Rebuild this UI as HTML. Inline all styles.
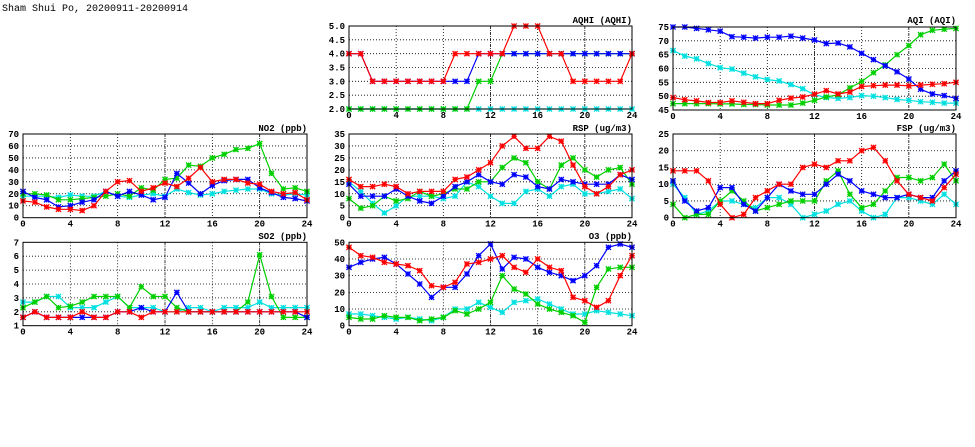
<!DOCTYPE html>
<html><head><meta charset="utf-8"><style>
html,body{margin:0;padding:0;background:#fff;width:975px;height:447px;overflow:hidden}
svg{display:block}
text{font-family:"Liberation Mono",monospace;font-size:9px;font-weight:bold;fill:#000}
.t{font-size:10px;font-weight:normal}
</style></head><body>
<svg id="s" width="975" height="447" xmlns="http://www.w3.org/2000/svg">
<text class="t" x="2" y="11">Sham Shui Po, 20200911-20200914</text>
<text x="632" y="23" text-anchor="end">AQHI (AQHI)</text>
<text x="956" y="23" text-anchor="end">AQI (AQI)</text>
<text x="307" y="131" text-anchor="end">NO2 (ppb)</text>
<text x="632" y="131" text-anchor="end">RSP (ug/m3)</text>
<text x="956" y="131" text-anchor="end">FSP (ug/m3)</text>
<text x="307" y="239" text-anchor="end">SO2 (ppb)</text>
<text x="632" y="239" text-anchor="end">O3 (ppb)</text>
</svg>
<script>
var NS="http://www.w3.org/2000/svg",S=document.getElementById("s");
function el(n,a,p){var e=document.createElementNS(NS,n);for(var k in a)e.setAttribute(k,a[k]);(p||S).appendChild(e);return e;}
var C={c:"#00e0e0",g:"#00d000",b:"#0000ff",r:"#ff0000"};
var P=[
{x0:349,x1:632,y0:26,y1:109,min:2,max:5,step:0.5,dec:1,d:{
c:[2,2,2,2,2,2,2,2,2,2,2,2,2,2,2,2,2,2,2,2,2,2,2,2,2],
g:[2,2,2,2,2,2,2,2,2,2,2,3,3,4,4,4,4,4,4,4,4,4,4,4,4],
b:[4,4,3,3,3,3,3,3,3,3,3,4,4,4,4,4,4,4,4,4,4,4,4,4,4],
r:[4,4,3,3,3,3,3,3,3,4,4,4,4,4,5,5,5,4,4,3,3,3,3,3,4]}},
{x0:673,x1:956,y0:27,y1:110,min:45,max:75,step:5,dec:0,d:{
c:[66.5,64.5,63.5,61.8,60.3,59.8,58.3,57,56,55.5,54.2,52.7,50.5,49.5,49.2,49.5,50.2,50,49.5,48.8,48.5,48,47.8,47.5,47.5],
g:[47.3,47.3,47.3,47.3,47.2,47.2,47,47,46.8,46.8,46.8,47.5,48.5,49.7,50.5,53,55.3,58.5,61.3,65,68.3,72.2,73.8,74.2,74.5],
b:[75,75,74.5,74,73.5,71.5,71.3,71,71.3,71.3,71.7,71,70.3,69,69.2,67.8,65.5,63.2,61,58.8,56.2,52.5,50.8,50.2,49.2],
r:[49.5,48.7,48.3,47.7,47.7,48.3,47.8,47.3,47.3,48.5,49.3,49.7,50.7,52,50.8,51.5,53.5,53.8,54,54,53.7,54,54.3,54.5,55]}},
{x0:23,x1:307,y0:134,y1:217.7,min:0,max:70,step:10,dec:0,d:{
c:[18,18,18,17,19,18,18,22,18,17,19,20,18,24,21,19,20,22,23,24,24,20,19,20,19],
g:[20,20,19,15,15,16,17,18,20,18,25,23,32,33,44,43,50,53,57,58,62,37,24,25,22],
b:[22,17,15,9,10,13,15,22,18,22,19,15,17,37,29,20,27,31,32,32,25,21,17,16,14],
r:[14,13,9,7,7,6,10,22,30,31,22,25,29,26,33,42,30,32,32,29,28,22,20,21,15]}},
{x0:349,x1:632,y0:134,y1:217.7,min:0,max:35,step:5,dec:0,d:{
c:[15,11,6,2,5,9,9,9,8,9,15,13,9,6,6,11,12,9,13,14,10,10,11,12,8],
g:[8,4,5,9,7,8,11,9,10,12,12,15,15,21,25,23,15,12,22,25,20,17,20,21,14],
b:[14,9,9,9,12,9,7,6,9,13,15,18,15,14,18,17,13,12,16,15,14,14,14,18,16],
r:[16,13,13,14,13,10,11,11,11,16,17,20,23,30,34,29,29,34,32,22,13,10,13,18,20]}},
{x0:673,x1:956,y0:134,y1:217.7,min:0,max:25,step:5,dec:0,d:{
c:[10,6,1,2,5,5,4,3,6,6,4,0,1,2,4,5,2,0,1,6,6,5,4,7,4],
g:[4,0,1,1,5,8,5,2,3,4,5,5,5,11,14,7,3,4,8,12,12,11,12,16,11],
b:[11,5,2,3,9,9,4,2,6,10,8,7,7,10,13,11,8,7,6,6,7,6,6,11,14],
r:[14,14,14,11,4,0,1,6,8,10,10,15,16,15,17,17,20,21,17,11,7,6,5,9,13]}},
{x0:23,x1:307,y0:242.3,y1:325.7,min:1,max:7,step:1,dec:0,d:{
c:[2.7,2.7,3.1,3.1,2.3,2.3,2.3,2.7,3.1,2.3,2.3,2.3,2,2,2.3,2.3,2,2.3,2.3,2.3,2.7,2.3,2.3,2.3,2.3],
g:[2.3,2.7,3.1,2.3,2.4,2.7,3.1,3.1,3.1,2.3,3.8,3.1,3.1,2.3,2,2,2,2,2,2.7,6.1,3.1,1.6,1.6,1.6],
b:[1.6,2,1.6,1.6,1.6,1.6,1.6,1.6,2,2,2.3,2,2,3.4,2,2,2,2,2,2,2,2,2,2,1.6],
r:[1.6,2,1.6,1.6,1.6,2,1.6,1.6,2,2,1.6,2,2,2,2,2,2,2,2,2,2,2,2,2,2]}},
{x0:349,x1:632,y0:242.3,y1:325.7,min:0,max:50,step:10,dec:0,d:{
c:[7,7,6,5,4,5,4,3,5,10,10,14,11,8,14,15,16,13,10,7,7,9,8,7,6],
g:[5,4,4,6,5,5,3,4,5,9,7,10,14,30,22,19,13,10,8,6,2,23,34,35,35],
b:[35,38,40,41,37,31,25,17,23,23,31,42,49,34,41,40,35,32,30,27,30,36,47,49,47],
r:[47,42,41,38,37,36,33,24,23,26,37,38,40,42,35,32,40,35,33,17,15,11,15,30,42]}}
];
P.forEach(function(p){
 var W=p.x1-p.x0,H=p.y1-p.y0;
 function X(h){return p.x0+W*h/24}
 function Y(v){return p.y1-H*(v-p.min)/(p.max-p.min)}
 var n=Math.round((p.max-p.min)/p.step);
 for(var i=0;i<=n;i++){var v=p.min+i*p.step,y=Y(v);
  if(i>0&&i<n)el("line",{x1:p.x0,x2:p.x1,y1:y,y2:y,stroke:"#000","stroke-width":0.8,"stroke-dasharray":"1,2"});
  var t=el("text",{x:p.x0-4,y:y+3,"text-anchor":"end"});t.textContent=v.toFixed(p.dec);}
 for(var h=0;h<=24;h+=4){var x=X(h);
  if(h>0&&h<24)el("line",{x1:x,x2:x,y1:p.y0,y2:p.y1,stroke:"#000","stroke-width":0.8,"stroke-dasharray":h%12==0||h==20?"3,1,1,1":"1,2"});
  var t=el("text",{x:x,y:p.y1+9,"text-anchor":"middle"});t.textContent=h;}
 ["c","g","b","r"].forEach(function(k){
  var d=p.d[k],pts=d.map(function(v,h){return X(h).toFixed(1)+","+Y(v).toFixed(1)}).join(" ");
  el("polyline",{points:pts,fill:"none",stroke:C[k],"stroke-width":1.2});
  d.forEach(function(v,h){var x=X(h),y=Y(v),r=2.6;
   el("path",{d:"M"+(x-r)+","+(y-r)+"L"+(x+r)+","+(y+r)+"M"+(x-r)+","+(y+r)+"L"+(x+r)+","+(y-r)+"M"+x+","+(y-r)+"V"+(y+r)+"M"+(x-r)+","+y+"H"+(x+r),stroke:C[k],"stroke-width":1.3,fill:"none"});
  });
 });
 el("rect",{x:p.x0,y:p.y0,width:W,height:H,fill:"none",stroke:"#000","stroke-width":1});
});
</script>
</body></html>
